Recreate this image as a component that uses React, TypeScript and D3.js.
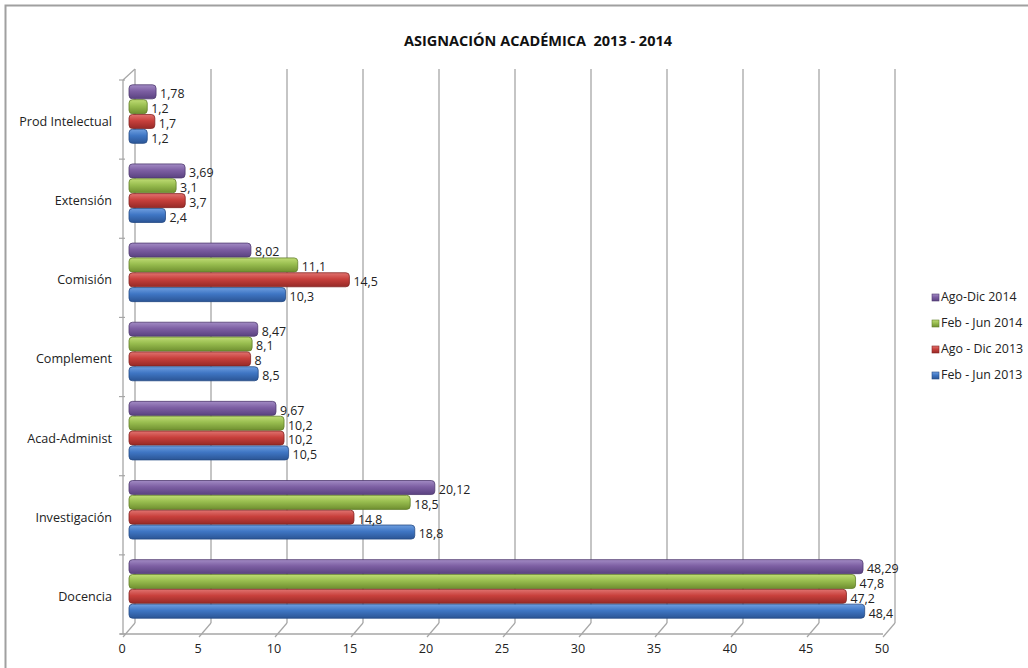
import { useRef, useEffect } from 'react';
import * as d3 from 'd3';

const categories = ['Prod Intelectual', 'Extensión', 'Comisión', 'Complement', 'Acad-Administ', 'Investigación', 'Docencia'];
const seriesNames = ['Ago-Dic 2014', 'Feb - Jun 2014', 'Ago - Dic 2013', 'Feb - Jun 2013'];
const agoDic2014 = [1.78, 3.69, 8.02, 8.47, 9.67, 20.12, 48.29];
const febJun2014 = [1.2, 3.1, 11.1, 8.1, 10.2, 18.5, 47.8];
const agoDic2013 = [1.7, 3.7, 14.5, 8, 10.2, 14.8, 47.2];
const febJun2013 = [1.2, 2.4, 10.3, 8.5, 10.5, 18.8, 48.4];
const xTicks = [0, 5, 10, 15, 20, 25, 30, 35, 40, 45, 50];

const seriesValues = [agoDic2014, febJun2014, agoDic2013, febJun2013];
const palette = [
  { top: '#a28bc4', mid: '#7d5fa3', bot: '#5a4280', stroke: '#4f3a70' },
  { top: '#bfdc74', mid: '#98bd4f', bot: '#6f8f30', stroke: '#627f2a' },
  { top: '#e07370', mid: '#c8403c', bot: '#962a27', stroke: '#842422' },
  { top: '#6f9fe0', mid: '#3f76c4', bot: '#2b5595', stroke: '#254a84' },
];

const fmt = (v: number) => String(v).replace('.', ',');

export default function App() {
  const svgRef = useRef<SVGSVGElement | null>(null);
  const width = 1028;
  const height = 668;

  useEffect(() => {
    if (!svgRef.current) return;
    const svg = d3.select(svgRef.current);
    svg.selectAll('*').remove();

    const font = '"Open Sans", "Noto Sans", sans-serif';
    const depth = { dx: 12, dy: -11 };
    const front = { left: 123, right: 883, top: 80, bottom: 634 };

    // front and back value scales
    const xFront = d3.scaleLinear().domain([0, 50]).range([front.left, front.right]);
    const xBack = d3.scaleLinear().domain([0, 50]).range([front.left + depth.dx, front.right + depth.dx]);
    const xBar = d3.scaleLinear().domain([0, 50]).range([front.left + depth.dx / 2, front.right + depth.dx / 2]);

    const yFront = d3.scaleBand().domain(categories).range([front.top, front.bottom]);
    const yMid = d3
      .scaleBand()
      .domain(categories)
      .range([front.top + depth.dy / 2, front.bottom + depth.dy / 2])
      .paddingInner(0.25)
      .paddingOuter(0.125);
    const ySub = d3.scaleBand().domain(seriesNames).range([0, yMid.bandwidth()]);

    // gradients
    const defs = svg.append('defs');
    palette.forEach((c, i) => {
      const g = defs
        .append('linearGradient')
        .attr('id', `grad${i}`)
        .attr('x1', 0)
        .attr('y1', 0)
        .attr('x2', 0)
        .attr('y2', 1);
      g.append('stop').attr('offset', '0%').attr('stop-color', c.top);
      g.append('stop').attr('offset', '45%').attr('stop-color', c.mid);
      g.append('stop').attr('offset', '100%').attr('stop-color', c.bot);
    });

    // outer chart border
    svg
      .append('rect')
      .attr('x', 5.5)
      .attr('y', 5.5)
      .attr('width', 1040)
      .attr('height', 700)
      .attr('fill', 'none')
      .attr('stroke', '#a0a0a0')
      .attr('stroke-width', 2);

    // title
    svg
      .append('text')
      .attr('x', 538)
      .attr('y', 46)
      .attr('text-anchor', 'middle')
      .attr('font-family', font)
      .attr('font-weight', 'bold')
      .attr('font-size', 14.5)
      .attr('fill', '#111')
      .attr('xml:space', 'preserve')
      .text('ASIGNACIÓN ACADÉMICA  2013 - 2014');

    const backTop = front.top + depth.dy;
    const backBottom = front.bottom + depth.dy;
    const grid = svg.append('g').attr('stroke', '#a6a6a6').attr('fill', 'none');

    // back wall gridlines
    xTicks.forEach((t) => {
      grid
        .append('line')
        .attr('x1', xBack(t))
        .attr('x2', xBack(t))
        .attr('y1', backTop)
        .attr('y2', backBottom)
        .attr('stroke-width', 1.3);
      // floor slant lines
      grid
        .append('line')
        .attr('x1', xFront(t))
        .attr('y1', front.bottom + 3)
        .attr('x2', xBack(t))
        .attr('y2', backBottom)
        .attr('stroke-width', 1.2);
    });

    // front floor line and left wall
    grid
      .append('line')
      .attr('x1', front.left - 3)
      .attr('x2', front.right)
      .attr('y1', front.bottom)
      .attr('y2', front.bottom)
      .attr('stroke-width', 1.3);
    grid
      .append('line')
      .attr('x1', front.left)
      .attr('x2', front.left)
      .attr('y1', front.top)
      .attr('y2', front.bottom)
      .attr('stroke-width', 1.3);
    grid
      .append('line')
      .attr('x1', front.left)
      .attr('y1', front.top)
      .attr('x2', xBack(0))
      .attr('y2', backTop)
      .attr('stroke-width', 1.2);

    // category ticks on the left wall
    const bounds = categories.map((c) => yFront(c)!).concat([front.bottom]);
    bounds.forEach((y) => {
      grid
        .append('line')
        .attr('x1', front.left - 4)
        .attr('x2', front.left + 2)
        .attr('y1', y)
        .attr('y2', y)
        .attr('stroke-width', 1.2);
    });

    // category labels
    svg
      .append('g')
      .selectAll('text')
      .data(categories)
      .join('text')
      .attr('x', 112)
      .attr('y', (d) => yFront(d)! + yFront.bandwidth() / 2 + 3)
      .attr('dominant-baseline', 'middle')
      .attr('text-anchor', 'end')
      .attr('font-family', font)
      .attr('font-size', 12.6)
      .attr('fill', '#222')
      .text((d) => d);

    // x tick labels
    svg
      .append('g')
      .selectAll('text')
      .data(xTicks)
      .join('text')
      .attr('x', (d) => xFront(d) - 1)
      .attr('y', 653)
      .attr('text-anchor', 'middle')
      .attr('font-family', font)
      .attr('font-size', 12.6)
      .attr('fill', '#222')
      .text((d) => String(d));

    // bars
    const barsG = svg.append('g');
    seriesNames.forEach((s, si) => {
      const vals = seriesValues[si];
      const c = palette[si];
      const g = barsG.append('g');
      g.selectAll('rect')
        .data(categories)
        .join('rect')
        .attr('x', xBar(0))
        .attr('y', (d) => yMid(d)! + ySub(s)! + 0.4)
        .attr('width', (d, i) => xBar(vals[i]) - xBar(0))
        .attr('height', ySub.bandwidth() - 0.8)
        .attr('rx', 3.5)
        .attr('fill', `url(#grad${si})`)
        .attr('stroke', c.stroke)
        .attr('stroke-width', 0.8);
    });

    // data labels
    const labelsG = svg.append('g');
    seriesNames.forEach((s, si) => {
      const vals = seriesValues[si];
      labelsG
        .append('g')
        .selectAll('text')
        .data(categories)
        .join('text')
        .attr('x', (d, i) => xBar(vals[i]) + 4)
        .attr('y', (d) => yMid(d)! + ySub(s)! + ySub.bandwidth() / 2 + 3)
        .attr('dominant-baseline', 'middle')
        .attr('font-family', font)
        .attr('font-size', 12.4)
        .attr('fill', '#222')
        .text((d, i) => fmt(vals[i]));
    });

    // legend
    const legend = svg.append('g');
    seriesNames.forEach((s, si) => {
      const y = 298 + si * 26;
      legend
        .append('rect')
        .attr('x', 932)
        .attr('y', y - 4)
        .attr('width', 7)
        .attr('height', 7)
        .attr('fill', `url(#grad${si})`)
        .attr('stroke', palette[si].stroke)
        .attr('stroke-width', 0.6);
      legend
        .append('text')
        .attr('x', 941)
        .attr('y', y)
        .attr('dominant-baseline', 'middle')
        .attr('font-family', font)
        .attr('font-size', 12.4)
        .attr('fill', '#222')
        .text(s);
    });
  }, []);

  return (
    <svg
      ref={svgRef}
      width={width}
      height={height}
      style={{ position: 'absolute', left: 0, top: 0, background: '#fff' }}
    />
  );
}
